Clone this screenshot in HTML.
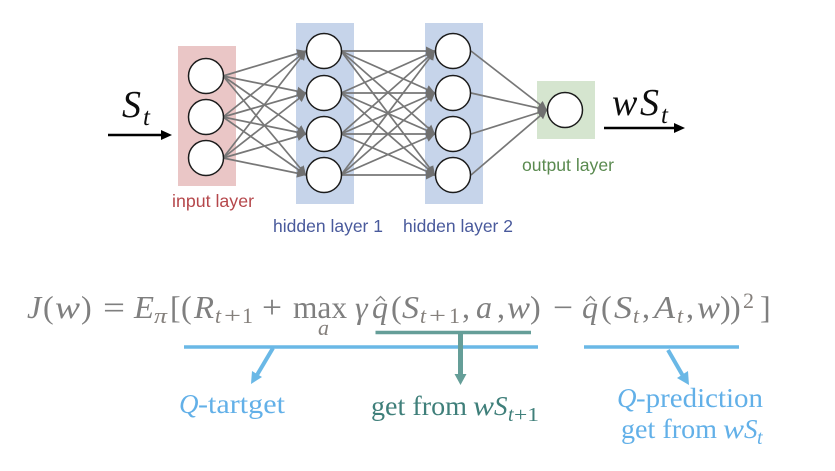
<!DOCTYPE html>
<html><head><meta charset="utf-8"><style>
html,body{margin:0;padding:0;background:#fff}
svg{display:block}
text{font-family:"Liberation Serif",serif}
.s{font-family:"Liberation Sans",sans-serif;font-size:17.5px}
.g{fill:#7f7f7f;font-size:32px}
.gi{fill:#7f7f7f;font-size:32px;font-style:italic}
.gs{fill:#85807c;font-size:22px;font-style:italic}
.gr{fill:#85807c;font-size:22px}
.b{fill:#62b0e8;font-size:27px}
.bi{fill:#62b0e8;font-size:27px;font-style:italic}
.t{fill:#3f7f7a;font-size:27px}
.ti{fill:#3f7f7a;font-size:27px;font-style:italic}
.k{fill:#111;font-size:38px;font-style:italic}
</style></head><body>
<svg width="835" height="471" viewBox="0 0 835 471" xmlns="http://www.w3.org/2000/svg">
<defs>
<marker id="h" markerUnits="userSpaceOnUse" markerWidth="10" markerHeight="10" refX="9" refY="5" orient="auto"><path d="M0 0.5L9 5L0 9.5Z" fill="#6f6f6f"/></marker>
<filter id="f" x="0" y="0" width="100%" height="100%"><feGaussianBlur stdDeviation="0.35"/></filter>
</defs>
<rect width="835" height="471" fill="#fff"/>
<g filter="url(#f)">
<rect x="178" y="46" width="58" height="140" fill="#eac6c6"/>
<rect x="296" y="23" width="58" height="181" fill="#c6d4ea"/>
<rect x="425" y="23" width="58" height="181" fill="#c6d4ea"/>
<rect x="537" y="81" width="58" height="58" fill="#d5e5cf"/>
<g stroke="#777" stroke-width="1.7" fill="none">
<path marker-end="url(#h)" d="M223 76L306 51"/><path marker-end="url(#h)" d="M223 76L306 93"/><path marker-end="url(#h)" d="M223 76L306 134"/><path marker-end="url(#h)" d="M223 76L306 175"/>
<path marker-end="url(#h)" d="M223 117L306 51"/><path marker-end="url(#h)" d="M223 117L306 93"/><path marker-end="url(#h)" d="M223 117L306 134"/><path marker-end="url(#h)" d="M223 117L306 175"/>
<path marker-end="url(#h)" d="M223 158L306 51"/><path marker-end="url(#h)" d="M223 158L306 93"/><path marker-end="url(#h)" d="M223 158L306 134"/><path marker-end="url(#h)" d="M223 158L306 175"/>
<path marker-end="url(#h)" d="M341 51L435 51"/><path marker-end="url(#h)" d="M341 51L435 93"/><path marker-end="url(#h)" d="M341 51L435 134"/><path marker-end="url(#h)" d="M341 51L435 175"/>
<path marker-end="url(#h)" d="M341 93L435 51"/><path marker-end="url(#h)" d="M341 93L435 93"/><path marker-end="url(#h)" d="M341 93L435 134"/><path marker-end="url(#h)" d="M341 93L435 175"/>
<path marker-end="url(#h)" d="M341 134L435 51"/><path marker-end="url(#h)" d="M341 134L435 93"/><path marker-end="url(#h)" d="M341 134L435 134"/><path marker-end="url(#h)" d="M341 134L435 175"/>
<path marker-end="url(#h)" d="M341 175L435 51"/><path marker-end="url(#h)" d="M341 175L435 93"/><path marker-end="url(#h)" d="M341 175L435 134"/><path marker-end="url(#h)" d="M341 175L435 175"/>
<path marker-end="url(#h)" d="M471 51L547 110"/><path marker-end="url(#h)" d="M471 93L547 110"/><path marker-end="url(#h)" d="M471 134L547 110"/><path marker-end="url(#h)" d="M471 175L547 110"/>
</g>
<g fill="#fff" stroke="#1c1c1c" stroke-width="1.5">
<circle cx="206" cy="76" r="17.5"/><circle cx="206" cy="117" r="17.5"/><circle cx="206" cy="158" r="17.5"/>
<circle cx="324" cy="51" r="17.5"/><circle cx="324" cy="93" r="17.5"/><circle cx="324" cy="134" r="17.5"/><circle cx="324" cy="175" r="17.5"/>
<circle cx="453" cy="51" r="17.5"/><circle cx="453" cy="93" r="17.5"/><circle cx="453" cy="134" r="17.5"/><circle cx="453" cy="175" r="17.5"/>
<circle cx="565" cy="110" r="17.5"/>
</g>
<text class="s" x="172" y="207" fill="#b5474b" textLength="82" lengthAdjust="spacingAndGlyphs">input layer</text>
<text class="s" x="273" y="232" fill="#4a5a9c" textLength="110" lengthAdjust="spacingAndGlyphs">hidden layer 1</text>
<text class="s" x="403" y="232" fill="#4a5a9c" textLength="110" lengthAdjust="spacingAndGlyphs">hidden layer 2</text>
<text class="s" x="522" y="171" fill="#5a8a50" textLength="92" lengthAdjust="spacingAndGlyphs">output layer</text>
<text class="k" x="122" y="117">S</text><text class="k" x="143" y="125" style="font-size:25px">t</text>
<path d="M108 135H164" stroke="#000" stroke-width="2.4"/><path d="M161 130L172 135L161 140Z" fill="#000"/>
<text class="k" x="612" y="115">w</text><text class="k" x="640" y="115">S</text><text class="k" x="661" y="123" style="font-size:25px">t</text>
<path d="M604 128H678" stroke="#000" stroke-width="2.4"/><path d="M674 123L685 128L674 133Z" fill="#000"/>
</g>
<!-- Equation -->
<text class="gi" x="27" y="318">J</text>
<text class="g" x="43" y="318">(</text>
<text class="gi" x="55" y="318" textLength="25" lengthAdjust="spacingAndGlyphs">w</text>
<text class="g" x="81" y="318">)</text>
<text class="g" x="103" y="318" textLength="22" lengthAdjust="spacingAndGlyphs">=</text>
<text class="gi" x="134" y="318" textLength="20" lengthAdjust="spacingAndGlyphs">E</text>
<text class="gs" x="154" y="323" textLength="13" lengthAdjust="spacingAndGlyphs">π</text>
<text class="g" x="170" y="318">[</text>
<text class="g" x="181" y="318">(</text>
<text class="gi" x="194" y="318" textLength="20" lengthAdjust="spacingAndGlyphs">R</text>
<text class="gs" x="215" y="323">t</text><text class="gr" x="224" y="323" textLength="17" lengthAdjust="spacingAndGlyphs">+</text><text class="gr" x="242" y="323">1</text>
<text class="g" x="262" y="318" textLength="20" lengthAdjust="spacingAndGlyphs">+</text>
<text class="g" x="293" y="318" textLength="54" lengthAdjust="spacingAndGlyphs">max</text>
<text class="gs" x="318" y="335">a</text>
<text class="gi" x="355" y="318">γ</text>
<text class="gi" x="372" y="318">q</text>
<path d="M376 301L380.500 296.500L385 301" fill="none" stroke="#7f7f7f" stroke-width="1.300"/>
<text class="g" x="391" y="318">(</text>
<text class="gi" x="402" y="318" textLength="17" lengthAdjust="spacingAndGlyphs">S</text>
<text class="gs" x="420" y="323">t</text><text class="gr" x="429" y="323" textLength="17" lengthAdjust="spacingAndGlyphs">+</text><text class="gr" x="449" y="323">1</text>
<text class="g" x="462" y="318">,</text>
<text class="gi" x="476" y="318">a</text>
<text class="g" x="497" y="318">,</text>
<text class="gi" x="507" y="318" textLength="23" lengthAdjust="spacingAndGlyphs">w</text>
<text class="g" x="530" y="318">)</text>
<text class="g" x="553" y="318" textLength="20" lengthAdjust="spacingAndGlyphs">−</text>
<text class="gi" x="582" y="318">q</text>
<path d="M586 301L590.500 296.500L595 301" fill="none" stroke="#7f7f7f" stroke-width="1.300"/>
<text class="g" x="601" y="318">(</text>
<text class="gi" x="614" y="318" textLength="18" lengthAdjust="spacingAndGlyphs">S</text>
<text class="gs" x="633" y="323">t</text>
<text class="g" x="642" y="318">,</text>
<text class="gi" x="654" y="318" textLength="21" lengthAdjust="spacingAndGlyphs">A</text>
<text class="gs" x="677" y="323">t</text>
<text class="g" x="686" y="318">,</text>
<text class="gi" x="697" y="318" textLength="23" lengthAdjust="spacingAndGlyphs">w</text>
<text class="g" x="720" y="318">)</text>
<text class="g" x="730" y="318">)</text>
<text class="gr" x="743" y="308">2</text>
<text class="g" x="760" y="318">]</text>
<!-- Lines -->
<path d="M184 347H538M584 347H739" stroke="#6ab8e6" stroke-width="3.500"/>
<path d="M375.500 332.500H531" stroke="#659e98" stroke-width="3.500"/>
<path d="M460.500 334V374" stroke="#659e98" stroke-width="5"/>
<path d="M454.500 374H466.500L460.500 385Z" fill="#659e98"/>
<path d="M273 348L257 375" stroke="#6ab8e6" stroke-width="4"/>
<path d="M251 384L252 371L262 377Z" fill="#6ab8e6"/>
<path d="M668 350L683 376" stroke="#6ab8e6" stroke-width="4"/>
<path d="M689 385L677 378L688 371Z" fill="#6ab8e6"/>
<!-- Labels -->
<text class="bi" x="179" y="413">Q</text><text class="b" x="198" y="413" textLength="87" lengthAdjust="spacingAndGlyphs">-tartget</text>
<text class="t" x="371" y="415" textLength="96" lengthAdjust="spacingAndGlyphs">get from</text>
<text class="ti" x="473" y="415" textLength="21" lengthAdjust="spacingAndGlyphs">w</text><text class="ti" x="494" y="415">S</text>
<text class="ti" x="508" y="421" style="font-size:20px">t</text><text class="t" x="514" y="421" style="font-size:20px" textLength="25" lengthAdjust="spacingAndGlyphs">+1</text>
<text class="bi" x="617" y="407">Q</text><text class="b" x="636" y="407" textLength="127" lengthAdjust="spacingAndGlyphs">-prediction</text>
<text class="b" x="621" y="438" textLength="96" lengthAdjust="spacingAndGlyphs">get from</text>
<text class="bi" x="723" y="438" textLength="21" lengthAdjust="spacingAndGlyphs">w</text><text class="bi" x="744" y="438">S</text>
<text class="bi" x="757" y="444" style="font-size:20px">t</text>
</svg>
</body></html>
